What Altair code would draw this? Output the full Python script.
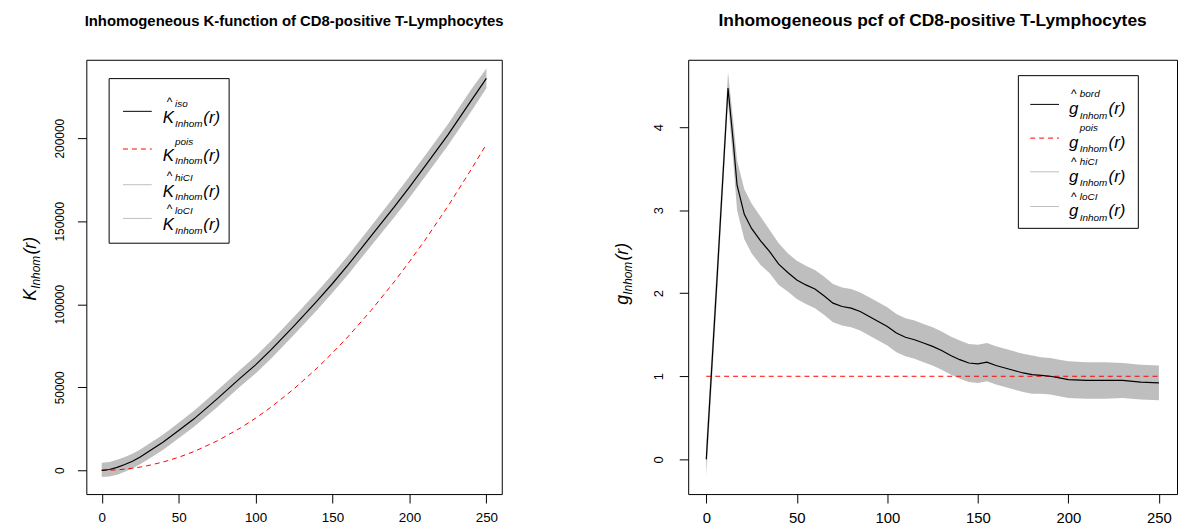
import altair as alt
import pandas as pd

# ---------------- data: left panel (inhomogeneous K-function) ----------------
r_k = [0, 5, 10, 15, 20, 25, 30, 40, 50, 60,
       75, 90, 100, 110, 125, 140, 150, 160, 175, 190,
       200, 210, 225, 240, 250]
k_iso = [0, 500, 1800, 3500, 5500, 8000, 11000, 17000, 24000, 31000,
         43000, 55500, 63500, 72500, 87000, 102000, 112500, 123500, 141000, 158500,
         170500, 183000, 202000, 222500, 236000]
k_hi = [4500, 5000, 6300, 8000, 10000, 12500, 15500, 21600, 28700, 35800,
        48000, 60600, 68700, 77800, 92400, 107500, 118100, 129200, 146900, 164700,
        176900, 189400, 208400, 229100, 242000]
k_lo = [-4000, -3700, -2600, -900, 1100, 3600, 6500, 12400, 19300, 26200,
        38000, 50400, 58300, 67200, 81600, 96500, 106900, 117800, 135100, 152300,
        164100, 176600, 195600, 215900, 230000]
k_pois = [0, 80, 310, 710, 1260, 1960, 2830, 5030, 7850, 11300,
          17700, 25400, 31400, 38000, 49100, 61600, 70700, 80400, 96200, 113400,
          125700, 138500, 159000, 181000, 196300]

# ---------------- data: right panel (inhomogeneous pcf) ----------------
r_g = [0, 6, 12, 15, 17, 21, 25, 30, 35, 40,
       45, 50, 55, 60, 65, 70, 75, 80, 85, 90,
       95, 100, 105, 110, 115, 120, 125, 130, 135, 140,
       145, 150, 155, 160, 165, 170, 175, 180, 185, 190,
       195, 200, 210, 220, 230, 240, 250]
g_bord = [0.0, 2.2, 4.47, 3.8, 3.3, 2.95, 2.78, 2.63, 2.5, 2.35,
          2.25, 2.16, 2.1, 2.05, 1.97, 1.88, 1.84, 1.82, 1.78, 1.72,
          1.66, 1.6, 1.52, 1.47, 1.44, 1.4, 1.36, 1.31, 1.25, 1.2,
          1.16, 1.15, 1.17, 1.13, 1.1, 1.07, 1.04, 1.02, 1.01, 1.0,
          0.98, 0.96, 0.95, 0.95, 0.95, 0.93, 0.92]
g_hi = [0.2, 2.4, 4.66, 4.05, 3.6, 3.25, 3.08, 2.92, 2.76, 2.6,
        2.48, 2.39, 2.33, 2.28, 2.2, 2.11, 2.07, 2.05, 2.01, 1.95,
        1.89, 1.83, 1.75, 1.7, 1.67, 1.63, 1.59, 1.54, 1.48, 1.43,
        1.39, 1.38, 1.4, 1.36, 1.33, 1.3, 1.27, 1.25, 1.23, 1.22,
        1.2, 1.18, 1.17, 1.17, 1.16, 1.14, 1.13]
g_lo = [-0.2, 2.0, 4.3, 3.55, 3.0, 2.65, 2.48, 2.34, 2.24, 2.1,
        2.02, 1.93, 1.87, 1.82, 1.74, 1.65, 1.61, 1.59, 1.55, 1.49,
        1.43, 1.37, 1.29, 1.24, 1.21, 1.17, 1.13, 1.08, 1.02, 0.97,
        0.93, 0.92, 0.94, 0.9, 0.87, 0.84, 0.81, 0.79, 0.79, 0.78,
        0.76, 0.74, 0.73, 0.73, 0.74, 0.72, 0.71]
r_pois = [0, 250]
g_pois = [1, 1]

x_ticks = [0, 50, 100, 150, 200, 250]
k_ticks = [0, 50000, 100000, 150000, 200000]
g_ticks = [0, 1, 2, 3, 4]

titles = ["Inhomogeneous K-function of CD8-positive T-Lymphocytes",
          "Inhomogeneous pcf of CD8-positive T-Lymphocytes"]
k_sups = ["iso", "pois", "hiCI", "loCI"]
g_sups = ["bord", "pois", "hiCI", "loCI"]
sub_txt = "Inhom"

# ---------------- styling ----------------
WL, WR, H = 419, 493, 438
FONT = "Liberation Sans"
BAND = "#bebebe"


def one():
    return alt.Chart(alt.Data(values=[{}]))


def txt(x, y, s, size, angle=0, italic=True, bold=False, align="left", baseline="alphabetic"):
    return one().mark_text(
        text=s, fontSize=size, font=FONT,
        fontStyle="italic" if italic else "normal",
        fontWeight="bold" if bold else "normal",
        align=align, baseline=baseline, angle=angle, color="black",
    ).encode(x=alt.value(x), y=alt.value(y))


def hline(x1, x2, y, color, dash=None, width=1.0):
    kw = dict(color=color, strokeWidth=width)
    if dash:
        kw["strokeDash"] = dash
    return one().mark_rule(**kw).encode(x=alt.value(x1), x2=alt.value(x2), y=alt.value(y))


def box(x1, y1, x2, y2):
    return one().mark_rect(fill="white", stroke="black", strokeWidth=1).encode(
        x=alt.value(x1), x2=alt.value(x2), y=alt.value(y1), y2=alt.value(y2))


def pin(x1, x2, y):
    return one().mark_rule(opacity=0).encode(x=alt.value(x1), x2=alt.value(x2), y=alt.value(y))


def xaxis(size):
    return alt.Axis(values=x_ticks, title=None, grid=False, domain=False, tickSize=9,
                    tickColor="black", labelFontSize=size, labelFont=FONT, labelColor="black",
                    labelPadding=8, labelFlush=False, labelOverlap=False)


def yaxis(vals, size, pad):
    return alt.Axis(values=vals, format="d", title=None, grid=False, domain=False, tickSize=9,
                    tickColor="black", labelFontSize=size, labelFont=FONT, labelColor="black",
                    labelAngle=270, labelAlign="center", labelBaseline="bottom",
                    labelPadding=pad, labelFlush=False, labelOverlap=False)


xs = alt.Scale(domain=[-10, 260], nice=False, zero=False)

# ---------------- left panel ----------------
dk = pd.DataFrame({"r": r_k, "iso": k_iso, "hi": k_hi, "lo": k_lo, "pois": k_pois})
ks = alt.Scale(domain=[-14300, 247200], nice=False, zero=False)
kx = xaxis(13.5)
kax = yaxis(k_ticks, 12, 11)
bk = alt.Chart(dk)
k_band = bk.mark_area(color=BAND).encode(
    x=alt.X("r:Q", scale=xs, axis=kx, title=None),
    y=alt.Y("lo:Q", scale=ks, axis=kax, title=None), y2="hi:Q")
k_red = bk.mark_line(color="red", strokeDash=[5, 4], strokeWidth=1).encode(
    x=alt.X("r:Q", scale=xs, axis=kx, title=None),
    y=alt.Y("pois:Q", scale=ks, axis=kax, title=None))
k_blk = bk.mark_line(color="black", strokeWidth=1.2).encode(
    x=alt.X("r:Q", scale=xs, axis=kx, title=None),
    y=alt.Y("iso:Q", scale=ks, axis=kax, title=None))

left_layers = [k_band, k_red, k_blk, pin(-78, 429, -49),
               txt(WL / 2, -39, titles[0], 15, italic=False, bold=True, align="center", baseline="middle"),
               # y-axis title  K_Inhom(r)
               txt(-51, 243, "K", 18, angle=270),
               txt(-47, 231, sub_txt, 12, angle=270),
               txt(-51, 196.5, "(r)", 18, angle=270),
               box(23, 19, 144, 185)]
k_rows = [52, 90, 126, 160]
k_styles = [("black", None), ("red", [5, 4]), (BAND, None), (BAND, None)]
for i, L in enumerate(k_rows):
    col, dash = k_styles[i]
    left_layers.append(hline(37, 66, L, col, dash))
    if i != 1:
        left_layers.append(txt(84, L - 5, "^", 12, italic=False, align="center"))
    left_layers.append(txt(77, L + 12, "K", 17))
    left_layers.append(txt(89.5, L - 4, k_sups[i], 10))
    left_layers.append(txt(89.5, L + 15.5, sub_txt, 10))
    left_layers.append(txt(118, L + 12, "(r)", 17))

left = alt.layer(*left_layers).properties(width=WL, height=H)

# ---------------- right panel ----------------
dg = pd.DataFrame({"r": r_g, "g": g_bord, "hi": g_hi, "lo": g_lo})
dp = pd.DataFrame({"r": r_pois, "g": g_pois})
gs = alt.Scale(domain=[-0.418, 4.81], nice=False, zero=False)
gx = xaxis(15)
gax = yaxis(g_ticks, 13, 14)
bg = alt.Chart(dg)
g_band = bg.mark_area(color=BAND).encode(
    x=alt.X("r:Q", scale=xs, axis=gx, title=None),
    y=alt.Y("lo:Q", scale=gs, axis=gax, title=None), y2="hi:Q")
g_red = alt.Chart(dp).mark_line(color="red", strokeDash=[5, 4], strokeWidth=1).encode(
    x=alt.X("r:Q", scale=xs, axis=gx, title=None),
    y=alt.Y("g:Q", scale=gs, axis=gax, title=None))
g_blk = bg.mark_line(color="black", strokeWidth=1.2).encode(
    x=alt.X("r:Q", scale=xs, axis=gx, title=None),
    y=alt.Y("g:Q", scale=gs, axis=gax, title=None))

right_layers = [g_band, g_red, g_blk, pin(-81, 100, -49),
                txt(WR / 2, -39, titles[1], 17.5, italic=False, bold=True, align="center", baseline="middle"),
                # y-axis title  g_Inhom(r)
                txt(-61, 247, "g", 18, angle=270),
                txt(-57, 237, sub_txt, 12, angle=270),
                txt(-61, 202.5, "(r)", 18, angle=270),
                box(333, 16, 454, 170)]
g_rows = [45, 79, 113, 148]
g_styles = [("black", None), ("red", [5, 4]), (BAND, None), (BAND, None)]
for i, L in enumerate(g_rows):
    col, dash = g_styles[i]
    right_layers.append(hline(345, 374, L, col, dash))
    if i != 1:
        right_layers.append(txt(389, L - 6, "^", 12, italic=False, align="center"))
    right_layers.append(txt(384, L + 10, "g", 17))
    right_layers.append(txt(395, L - 7, g_sups[i], 10))
    right_layers.append(txt(395, L + 14.5, sub_txt, 10))
    right_layers.append(txt(424, L + 10, "(r)", 17))

right = alt.layer(*right_layers).properties(width=WR, height=H)

chart = (
    alt.hconcat(left, right, spacing=95)
    .properties(padding=0, background="white")
    .configure_view(stroke="black", strokeWidth=1)
)

chart.save("out.html", embed_options={"renderer": "svg", "actions": False})
